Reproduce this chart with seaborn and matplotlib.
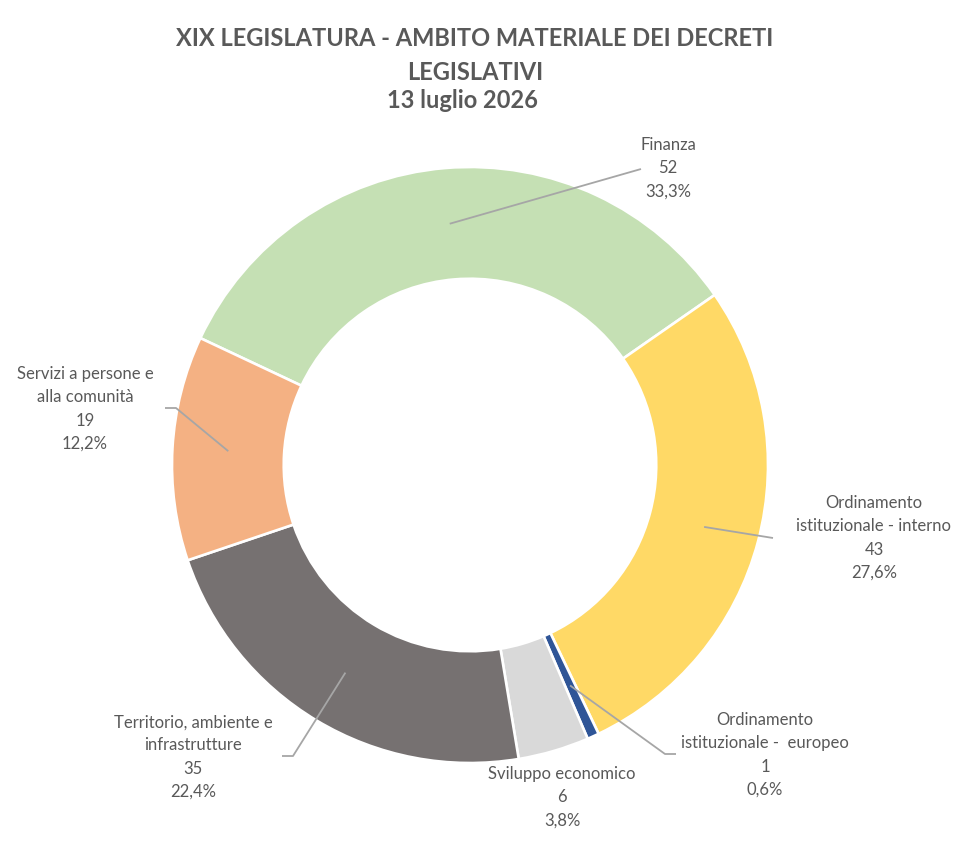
import numpy as np
import matplotlib
matplotlib.use("Agg")
import matplotlib.pyplot as plt
import seaborn as sns

# ---- data ----
categories = ["Finanza", "Ordinamento\nistituzionale - interno", "Ordinamento\nistituzionale -  europeo",
              "Sviluppo economico", "Territorio, ambiente e\ninfrastrutture", "Servizi a persone e\nalla comunità"]
values = [52, 43, 1, 6, 35, 19]
colors = ["#C5E0B4", "#FFD966", "#2F5597", "#D9D9D9", "#767171", "#F4B183"]
title_lines = ["XIX LEGISLATURA - AMBITO MATERIALE DEI DECRETI", "LEGISLATIVI", "13 luglio 2026"]

sns.set_theme(style="white")
plt.rcParams['font.family'] = ['Lato', 'DejaVu Sans']

W, H = 957, 850
fig = plt.figure(figsize=(W / 100, H / 100), dpi=100)
cx, cy, R = 470, 465, 298
half = 350
ax = fig.add_axes([(cx - half) / W, (H - cy - half) / H, 2 * half / W, 2 * half / H])
lim = half / R

start = 154.8
ring = 0.375
ax.pie(values, colors=colors, startangle=start, counterclock=False, radius=1,
       wedgeprops=dict(width=ring, edgecolor='white', linewidth=1.9), frame=False)
ax.set_xlim(-lim, lim)
ax.set_ylim(-lim, lim)
ax.set_aspect('equal')
ax.axis('off')

def px(x, y):
    return ((x - cx) / R, (cy - y) / R)

total = sum(values)
# label layout (pixel positions of text center, leader-line polyline ends)
label_pos = [(668, 168), (874, 538), (765, 755), (562, 797), (193, 757), (85, 409)]
leader_ends = [[(641, 169)], [(773, 538)], [(665, 754), (676, 754)], None,
               [(293, 756), (282, 756)], [(176, 408), (165, 408)]]

txtc = "#595959"
ang = start
for i, (cat, v) in enumerate(zip(categories, values)):
    span = v / total * 360
    mid = np.deg2rad(ang - span / 2)
    ang -= span
    rm = 1 - ring / 2
    p0 = (rm * np.cos(mid), rm * np.sin(mid))
    pct = f"{v / total * 100:.1f}%".replace(".", ",")
    lx, ly = px(*label_pos[i])
    ax.text(lx, ly, f"{cat}\n{v}\n{pct}", ha='center', va='center', multialignment='center',
            fontsize=12, color=txtc, linespacing=1.55)
    if leader_ends[i] is not None:
        pts = [p0] + [px(*q) for q in leader_ends[i]]
        xs, ys = zip(*pts)
        ax.plot(xs, ys, color="#A6A6A6", lw=1.3, solid_capstyle='butt')

fig.text(475 / W, 1 - 38 / H, title_lines[0], ha='center', va='center', fontsize=17,
         fontweight='bold', color=txtc)
fig.text(475 / W, 1 - 72 / H, title_lines[1], ha='center', va='center', fontsize=17,
         fontweight='bold', color=txtc)
fig.text(462 / W, 1 - 100 / H, title_lines[2], ha='center', va='center', fontsize=17,
         fontweight='bold', color=txtc)

fig.savefig("out.png", dpi=100, facecolor='white')
